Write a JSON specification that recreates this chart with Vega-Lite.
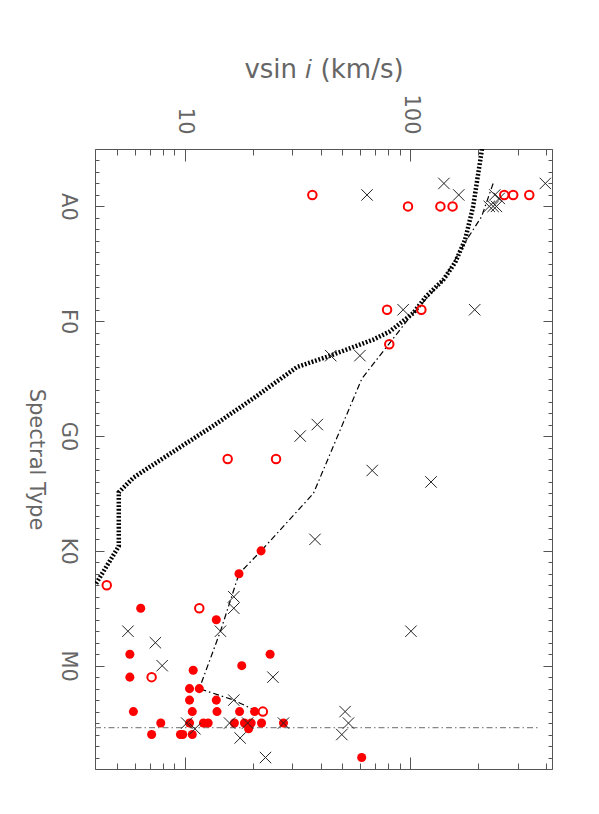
{
  "$schema": "https://vega.github.io/schema/vega-lite/v6.json",
  "width": 457,
  "height": 620,
  "autosize": {"type": "none"},
  "padding": {"left": 95, "top": 149, "right": 47, "bottom": 45},
  "background": "white",
  "config": {
    "view": {"stroke": "#555", "strokeWidth": 1},
    "axis": {"grid": false, "domain": false, "tickColor": "#555", "tickWidth": 1, "labelFont": "DejaVu Sans", "titleFont": "DejaVu Sans", "labelColor": "#666", "titleColor": "#666", "titleFontWeight": "normal", "labelFlush": false, "labelOverlap": false}
  },
  "datasets": {
    "open": [{"s":-1,"v":36.8},{"s":0,"v":97.7},{"s":0,"v":136},{"s":0,"v":154},{"s":-1,"v":261},{"s":-1,"v":286},{"s":-1,"v":337},{"s":9,"v":78.9},{"s":9,"v":112},{"s":12,"v":80.7},{"s":22,"v":15.5},{"s":22,"v":25.4},{"s":33,"v":4.51},{"s":35,"v":11.6},{"s":41,"v":7.13},{"s":44,"v":22.2}],
    "filled": [{"s":30,"v":21.8},{"s":32,"v":17.4},{"s":35,"v":6.38},{"s":36,"v":13.8},{"s":39,"v":5.71},{"s":39,"v":23.9},{"s":40,"v":17.9},{"s":40.4,"v":10.9},{"s":41,"v":5.71},{"s":42,"v":10.5},{"s":42,"v":11.6},{"s":43,"v":10.5},{"s":43,"v":13.8},{"s":44,"v":5.92},{"s":44,"v":10.8},{"s":44,"v":13.9},{"s":44,"v":17.5},{"s":44,"v":20.4},{"s":45,"v":7.83},{"s":45,"v":10.5},{"s":45,"v":12.1},{"s":45,"v":12.7},{"s":45,"v":16.6},{"s":45,"v":18.4},{"s":45,"v":19.7},{"s":45,"v":21.9},{"s":45,"v":27.4},{"s":45.5,"v":19.2},{"s":46,"v":7.13},{"s":46,"v":9.57},{"s":46,"v":9.8},{"s":46,"v":10.8},{"s":48,"v":60.9}],
    "cross": [{"s":-2,"v":141},{"s":-2,"v":397},{"s":-1,"v":164},{"s":-1,"v":64.3},{"s":-1,"v":237},{"s":-0.7,"v":248},{"s":0,"v":224},{"s":0,"v":233},{"s":0,"v":241},{"s":9,"v":93},{"s":9,"v":193},{"s":13,"v":44.4},{"s":13,"v":59.8},{"s":19,"v":38.7},{"s":20,"v":32.5},{"s":23,"v":67.8},{"s":24,"v":123.6},{"s":29,"v":37.8},{"s":34,"v":16.5},{"s":35,"v":16.5},{"s":37,"v":5.6},{"s":37,"v":14.4},{"s":37,"v":100.7},{"s":38,"v":7.41},{"s":40,"v":7.94},{"s":41,"v":24.6},{"s":43,"v":16.5},{"s":44,"v":51.4},{"s":45,"v":10.2},{"s":45,"v":15.8},{"s":45,"v":19.0},{"s":45,"v":27.4},{"s":45,"v":53.2},{"s":45.5,"v":11.1},{"s":46,"v":49.7},{"s":46.3,"v":17.6},{"s":48,"v":22.8}],
    "dotted": [{"s":-5,"v":208},{"s":0,"v":190},{"s":2.9,"v":175},{"s":4.9,"v":158},{"s":6.4,"v":140},{"s":7.8,"v":118},{"s":9.3,"v":103},{"s":10.9,"v":81},{"s":11.6,"v":68.5},{"s":13,"v":44.2},{"s":14,"v":31.4},{"s":16.7,"v":20.2},{"s":19.1,"v":13.4},{"s":21.7,"v":8.36},{"s":23.6,"v":5.94},{"s":24.9,"v":5.1},{"s":29.6,"v":5.1},{"s":32.9,"v":4.03}],
    "dashdot": [{"s":-2,"v":233},{"s":0.9,"v":207},{"s":2.9,"v":178},{"s":6.4,"v":140},{"s":9.6,"v":100},{"s":11.9,"v":81},{"s":15,"v":61},{"s":25,"v":37.2},{"s":30,"v":21.8},{"s":32,"v":17.4},{"s":37,"v":14.4},{"s":42,"v":11.6},{"s":43,"v":16.5},{"s":44,"v":21}],
    "hline": [{"s":45.4,"v1":4,"v2":376}]
  },
  "resolve": {"axis": {"x": "independent", "y": "independent"}},
  "layer": [
    {
      "data": {"name": "hline"},
      "mark": {"type": "rule", "color": "#888", "strokeWidth": 1.3, "strokeDash": [6, 3, 1.5, 3]},
      "encoding": {
        "x": {"field": "v1", "type": "quantitative", "scale": {"type": "log", "domain": [4, 425], "nice": false},
          "axis": {"orient": "top", "values": [10, 100], "ticks": false, "labelAngle": 90, "labelAlign": "right", "labelBaseline": "middle", "labelPadding": 15, "labelFontSize": 21,
            "title": "vsin 𝑖 (km/s)", "titleFontSize": 26, "titleAngle": 0, "titleAlign": "center", "titleBaseline": "alphabetic", "titleX": 228.5, "titleY": -72}},
        "x2": {"field": "v2"},
        "y": {"field": "s", "type": "quantitative", "scale": {"domain": [-5, 49], "reverse": true, "nice": false, "zero": false},
          "axis": {"orient": "left", "values": [0, 10, 20, 30, 40], "ticks": false, "labelAngle": 90, "labelAlign": "center", "labelBaseline": "top", "labelPadding": 17, "labelFontSize": 21,
            "labelExpr": "['A0','F0','G0','K0','M0'][round(datum.value/10)]",
            "title": "Spectral Type", "titleFontSize": 21, "titleAngle": 90, "titleAlign": "center", "titleBaseline": "top", "titleX": -49, "titleY": 310}}
      }
    },
    {
      "data": {"name": "dotted"},
      "mark": {"type": "line", "color": "black", "strokeWidth": 4.5, "strokeDash": [1.8, 1.8], "clip": true},
      "encoding": {
        "x": {"field": "v", "type": "quantitative", "scale": {"type": "log", "domain": [4, 425], "nice": false},
          "axis": {"orient": "top", "values": [10, 100], "labels": false, "tickSize": -12, "title": null}},
        "y": {"field": "s", "type": "quantitative", "scale": {"domain": [-5, 49], "reverse": true, "nice": false, "zero": false},
          "axis": {"orient": "left", "values": [0, 10, 20, 30, 40], "labels": false, "tickSize": -9, "title": null}},
        "order": {"field": "s", "type": "quantitative"}
      }
    },
    {
      "data": {"name": "dashdot"},
      "mark": {"type": "line", "color": "black", "strokeWidth": 1.2, "strokeDash": [6, 3, 1.5, 3]},
      "encoding": {
        "x": {"field": "v", "type": "quantitative", "scale": {"type": "log", "domain": [4, 425], "nice": false},
          "axis": {"orient": "top", "values": [5, 6, 7, 8, 9, 20, 30, 40, 50, 60, 70, 80, 90, 200, 300, 400], "labels": false, "tickSize": -6, "title": null}},
        "y": {"field": "s", "type": "quantitative", "scale": {"domain": [-5, 49], "reverse": true, "nice": false, "zero": false},
          "axis": {"orient": "left", "values": [-5,-4,-3,-2,-1,1,2,3,4,5,6,7,8,9,11,12,13,14,15,16,17,18,19,21,22,23,24,25,26,27,28,29,31,32,33,34,35,36,37,38,39,41,42,43,44,45,46,47,48,49], "labels": false, "tickSize": -4, "title": null}},
        "order": {"field": "s", "type": "quantitative"}
      }
    },
    {
      "data": {"name": "filled"},
      "mark": {"type": "point", "shape": "circle", "filled": true, "color": "#ff0000", "opacity": 1, "size": 82},
      "encoding": {
        "x": {"field": "v", "type": "quantitative", "scale": {"type": "log", "domain": [4, 425], "nice": false},
          "axis": {"orient": "bottom", "values": [10, 100], "labels": false, "tickSize": -12, "title": null}},
        "y": {"field": "s", "type": "quantitative", "scale": {"domain": [-5, 49], "reverse": true, "nice": false, "zero": false},
          "axis": {"orient": "right", "values": [0, 10, 20, 30, 40], "labels": false, "tickSize": -9, "title": null}}
      }
    },
    {
      "data": {"name": "open"},
      "mark": {"type": "point", "shape": "circle", "filled": false, "color": "#ff0000", "strokeWidth": 2, "opacity": 1, "size": 72},
      "encoding": {
        "x": {"field": "v", "type": "quantitative", "scale": {"type": "log", "domain": [4, 425], "nice": false},
          "axis": {"orient": "bottom", "values": [5, 6, 7, 8, 9, 20, 30, 40, 50, 60, 70, 80, 90, 200, 300, 400], "labels": false, "tickSize": -6, "title": null}},
        "y": {"field": "s", "type": "quantitative", "scale": {"domain": [-5, 49], "reverse": true, "nice": false, "zero": false},
          "axis": {"orient": "right", "values": [-5,-4,-3,-2,-1,1,2,3,4,5,6,7,8,9,11,12,13,14,15,16,17,18,19,21,22,23,24,25,26,27,28,29,31,32,33,34,35,36,37,38,39,41,42,43,44,45,46,47,48,49], "labels": false, "tickSize": -4, "title": null}}
      }
    },
    {
      "data": {"name": "cross"},
      "mark": {"type": "point", "shape": "M-1,-1L1,1M-1,1L1,-1", "filled": false, "color": "#222", "strokeWidth": 1, "opacity": 1, "size": 130},
      "encoding": {
        "x": {"field": "v", "type": "quantitative", "scale": {"type": "log", "domain": [4, 425], "nice": false}, "axis": null},
        "y": {"field": "s", "type": "quantitative", "scale": {"domain": [-5, 49], "reverse": true, "nice": false, "zero": false}, "axis": null}
      }
    }
  ]
}
